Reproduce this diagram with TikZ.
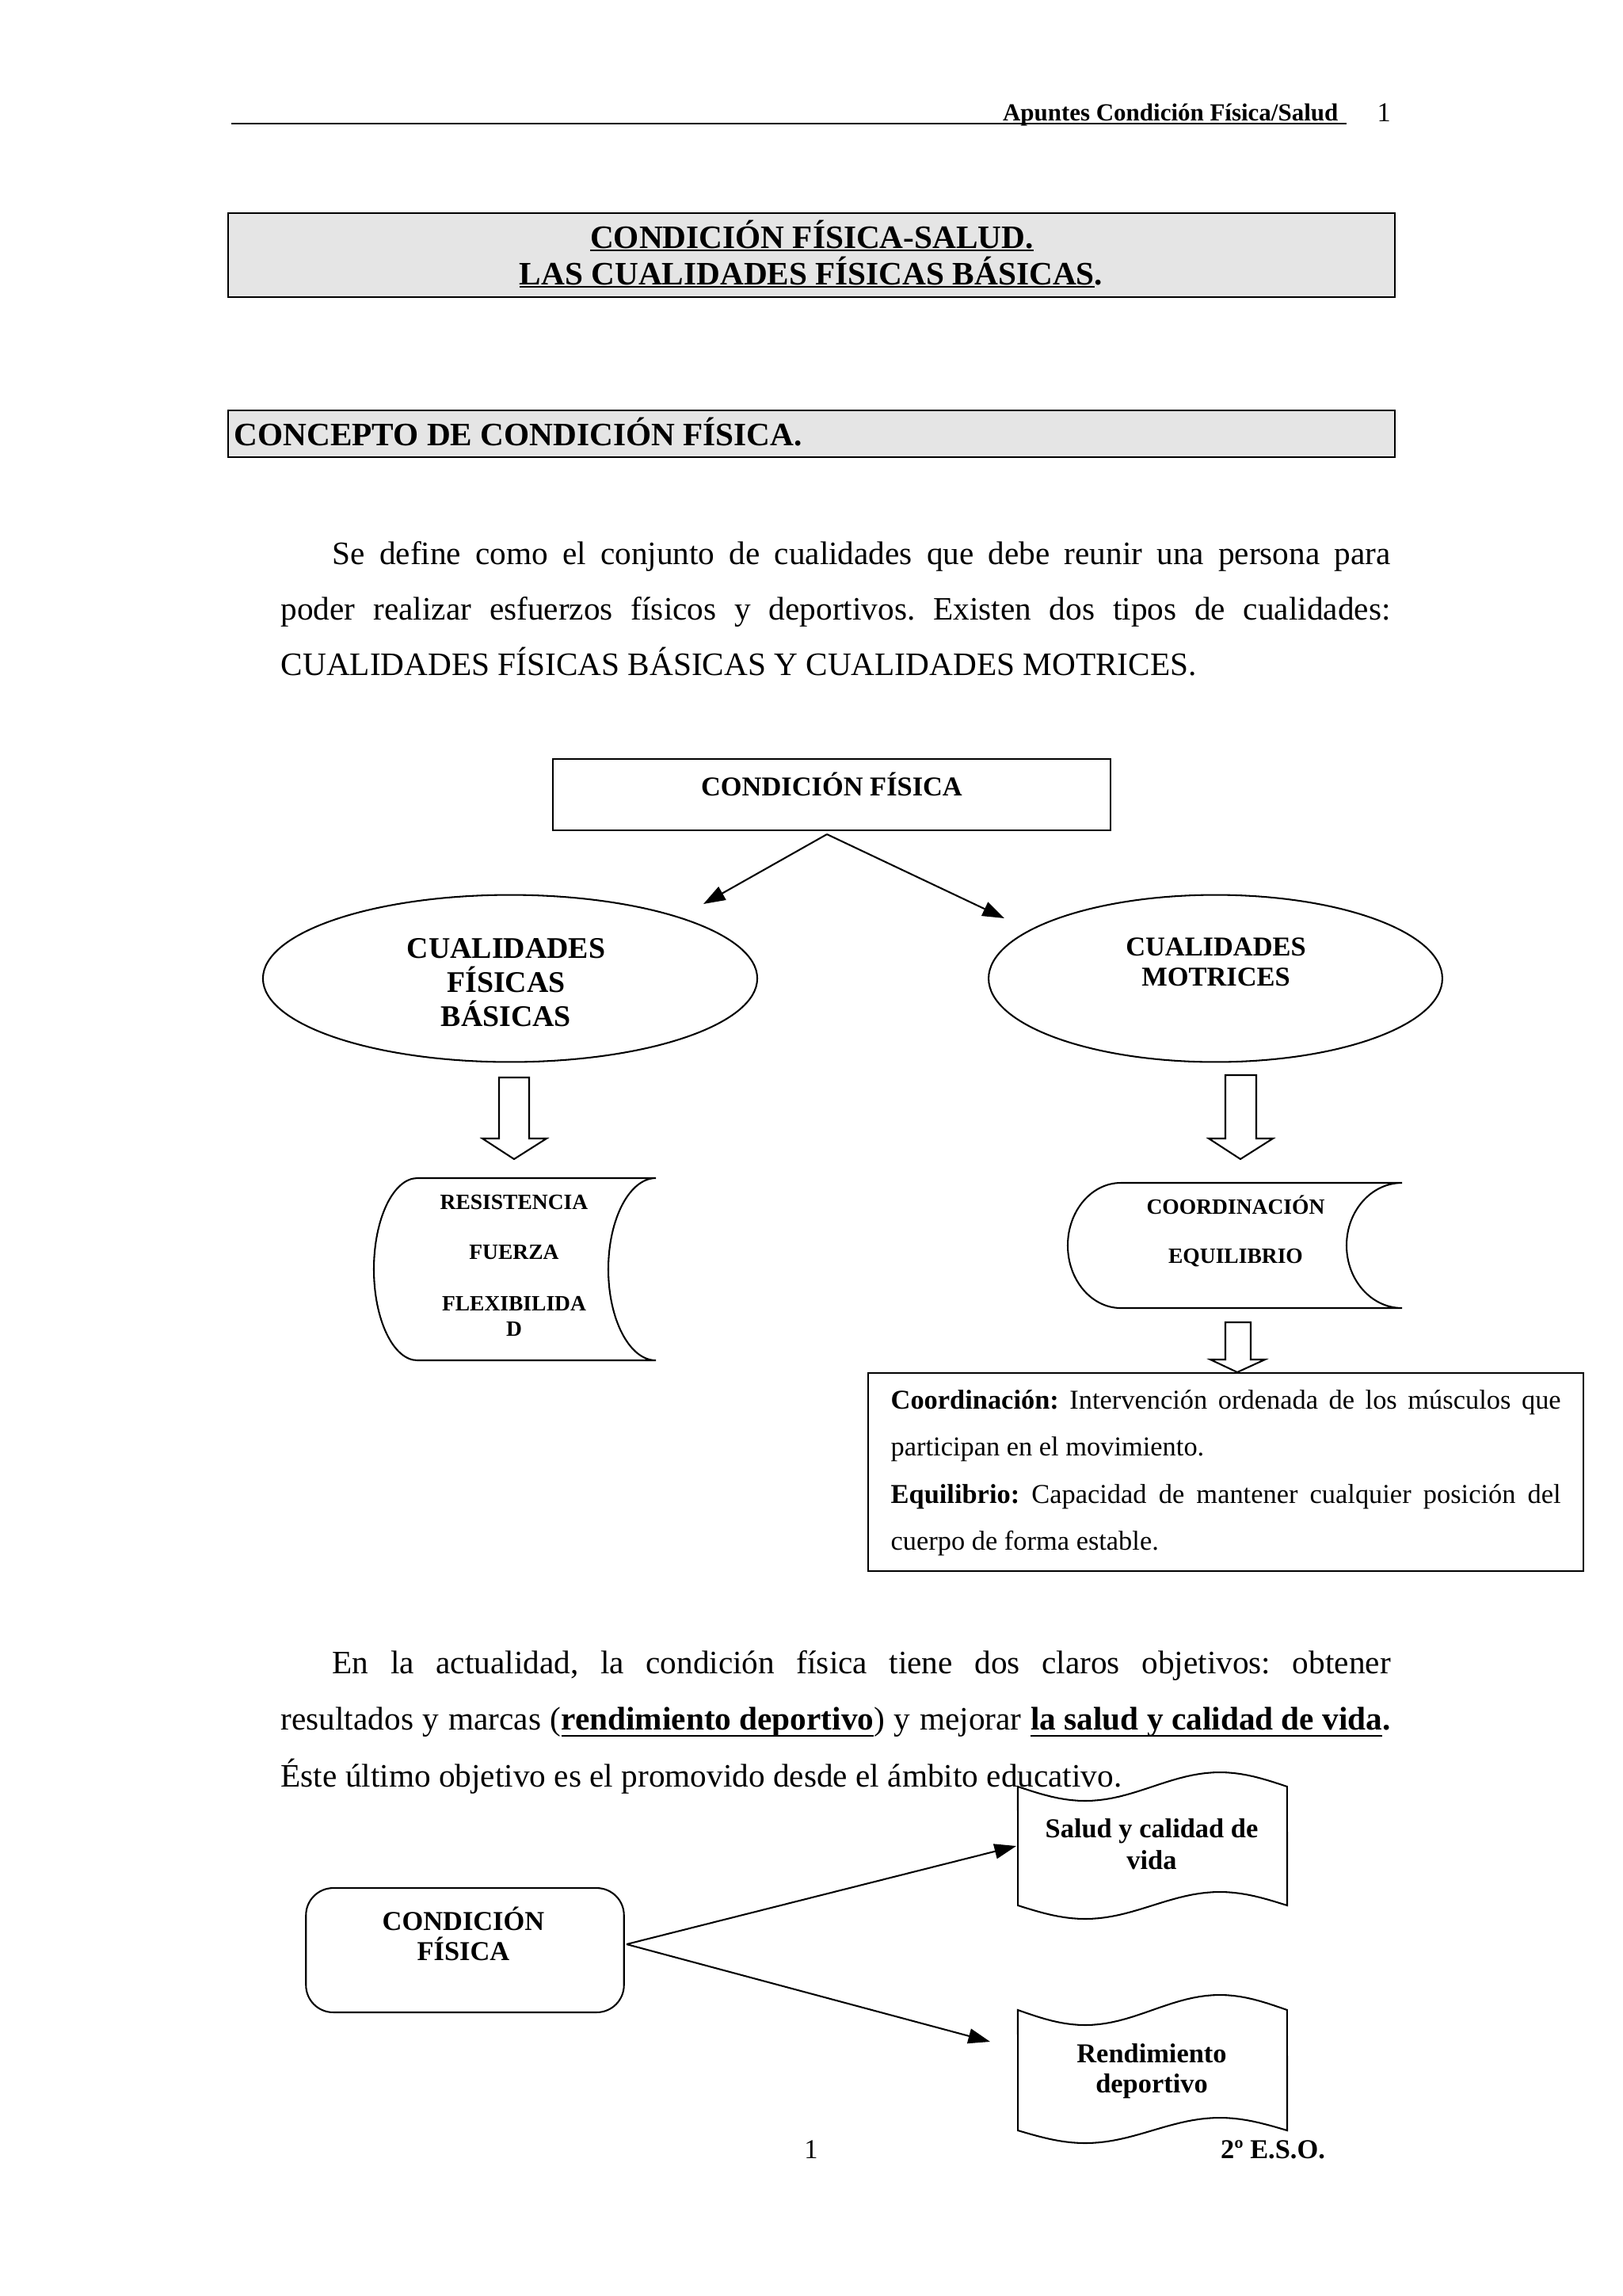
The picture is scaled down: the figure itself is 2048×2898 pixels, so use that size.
\documentclass[tikz,border=0pt]{standalone}
\usepackage{fontspec}
\setmainfont{Liberation Serif}
\usetikzlibrary{arrows.meta,shapes.geometric}
\frenchspacing
\newcommand\myul[2][2pt]{\setbox0\hbox{#2}\rlap{\rule[-#1]{\wd0}{0.6pt}}\box0}
\tikzset{
  bar/.style={draw, line width=0.8pt, fill=black!10},
  flow/.style={draw, line width=0.6pt},
  arr/.style={-{Triangle[length=8pt,width=5.5pt]}, line width=0.6pt},
  blk/.style={draw, line width=0.6pt, fill=white},
  lab/.style={anchor=base, inner sep=0pt},
  bf8/.style={lab, font=\fontsize{8}{9.2}\selectfont\bfseries},
  bf10/.style={lab, font=\fontsize{10}{11.5}\selectfont\bfseries},
  bf11/.style={lab, font=\fontsize{11}{12.5}\selectfont\bfseries},
  bf12/.style={lab, font=\fontsize{12}{14}\selectfont\bfseries},
}
\begin{document}
\begin{tikzpicture}[x=0.290662pt,y=-0.290662pt]
\useasboundingbox (0,0) rectangle (2048,2898);

% header
\coordinate (hl1) at (292,155.7);
\coordinate (hl2) at (1700,155.7);
\draw[line width=0.6pt] (hl1) -- (hl2);
\node[lab, anchor=base east, font=\fontsize{9}{11}\selectfont\bfseries] (htxt) at (1690,152.7) {Apuntes Condición Física/Salud};
\node[lab, anchor=base west, font=\fontsize{10}{12}\selectfont] (hnum) at (1738,153) {1};

% title bar
\node[bar, minimum width=428.2pt, minimum height=30.8pt, inner sep=0pt] (tbar) at (1024.5,322) {};
\node[bf12] (t1) at (1025,313) {\myul[1.3pt]{CONDICIÓN FÍSICA-SALUD.}};
\node[bf12] (t2) at (1024,359) {\myul[1.3pt]{LAS CUALIDADES FÍSICAS BÁSICAS}.};

% concept bar
\node[bar, minimum width=428.2pt, minimum height=17.1pt, inner sep=0pt] (cbar) at (1024.5,547.5) {};
\node[bf12, anchor=base west] (ctxt) at (295,562) {CONCEPTO DE CONDICIÓN FÍSICA.};

% paragraph 1
\node[anchor=base west, inner sep=0pt, text width=407.2pt, align=justify,
      font=\fontsize{12}{20.35}\selectfont] (p1) at (354,712)
 {\hspace*{18.9pt}Se define como el conjunto de cualidades que debe reunir una persona para\linebreak
  poder realizar esfuerzos físicos y deportivos. Existen dos tipos de cualidades:\linebreak
  CUALIDADES FÍSICAS BÁSICAS Y CUALIDADES MOTRICES.};

% diagram 1
\node[flow, minimum width=204.6pt, minimum height=26.2pt, inner sep=0pt] (cf1) at (1050,1003) {};
\node[bf10] (cf1t) at (1050,1004.4) {CONDICIÓN FÍSICA};
\coordinate (cf1s) at (1044,1053);
\coordinate (cfbt) at (888,1141);
\coordinate (cmt) at (1268,1159);
\draw[arr] (cf1s) -- (cfbt);
\draw[arr] (cf1s) -- (cmt);

\node[flow, ellipse, minimum width=181.4pt, minimum height=61.3pt, inner sep=0pt] (cfb) at (644,1235) {};
\node[bf11] (cfb1) at (639,1209.5) {CUALIDADES};
\node[bf11] (cfb2) at (639,1252.5) {FÍSICAS};
\node[bf11] (cfb3) at (639,1295.5) {BÁSICAS};

\node[flow, ellipse, minimum width=166.5pt, minimum height=61.3pt, inner sep=0pt] (cm) at (1534.5,1235) {};
\node[bf10] (cm1) at (1535,1206.4) {CUALIDADES};
\node[bf10] (cm2) at (1535,1244.4) {MOTRICES};

% block arrows
\draw[blk] (630,1360) -- (668,1360) -- (668,1437) -- (690,1437) -- (649,1463) -- (609,1437) -- (630,1437) -- cycle;
\draw[blk] (1547,1357) -- (1586,1357) -- (1586,1437) -- (1607,1437) -- (1566,1463) -- (1526,1437) -- (1547,1437) -- cycle;

% left stored data shape
\draw[flow] (527,1487) -- (828,1487) .. controls (794.9,1487) and (768,1538.5) .. (768,1602)
  .. controls (768,1665.5) and (794.9,1717) .. (828,1717) -- (527,1717)
  .. controls (496.6,1717) and (472,1665.5) .. (472,1602)
  .. controls (472,1538.5) and (496.6,1487) .. (527,1487) -- cycle;
\node[bf8] (r1) at (649,1526) {RESISTENCIA};
\node[bf8] (r2) at (649,1589) {FUERZA};
\node[bf8] (r3) at (649,1654) {FLEXIBILIDA};
\node[bf8] (r4) at (649,1686) {D};

% right stored data shape
\draw[flow] (1415,1493) -- (1770,1493) .. controls (1731.3,1493) and (1700,1528.4) .. (1700,1572)
  .. controls (1700,1615.6) and (1731.3,1651) .. (1770,1651) -- (1415,1651)
  .. controls (1378,1651) and (1348,1615.6) .. (1348,1572)
  .. controls (1348,1528.4) and (1378,1493) .. (1415,1493) -- cycle;
\node[bf8] (m1) at (1560,1532) {COORDINACIÓN};
\node[bf8] (m2) at (1560,1594) {EQUILIBRIO};

% small block arrow
\draw[blk] (1547,1669) -- (1579,1669) -- (1579,1716) -- (1597,1716) -- (1562,1732) -- (1528,1716) -- (1547,1716) -- cycle;

% definitions box
\node[flow, minimum width=262.5pt, minimum height=72.7pt, inner sep=0pt] (def) at (1547.5,1858) {};
\node[anchor=base west, inner sep=0pt, text width=245.9pt, align=justify,
      font=\fontsize{10}{17.3}\selectfont] (deft) at (1124,1778)
 {\noindent\textbf{Coordinación:} Intervención ordenada de los músculos que\linebreak
  participan en el movimiento.\par
  \noindent\textbf{Equilibrio:} Capacidad de mantener cualquier posición del\linebreak
  cuerpo de forma estable.};

% paragraph 2
\node[anchor=base west, inner sep=0pt, text width=407.2pt, align=justify,
      font=\fontsize{12}{20.8}\selectfont] (p2) at (354,2112)
 {\hspace*{18.9pt}En la actualidad, la condición física tiene dos claros objetivos: obtener\linebreak
  resultados y marcas (\textbf{\myul[2.4pt]{rendimiento deportivo}}) y mejorar \textbf{\myul[2.4pt]{la salud y calidad de vida}.}\linebreak
  Éste último objetivo es el promovido desde el ámbito educativo.};

% diagram 2
\node[flow, rounded corners=10pt, minimum width=116.7pt, minimum height=45.6pt, inner sep=0pt] (cf2) at (587,2461.5) {};
\node[bf10] (cf2a) at (585,2436.4) {CONDICIÓN};
\node[bf10] (cf2b) at (585,2474.4) {FÍSICA};

\draw[flow] plot[domain=0:1,samples=41] ({1285+340*\x},{2255+18*sin(360*\x)})
  -- plot[domain=1:0,samples=41] ({1285+340*\x},{2405+17*sin(360*\x)}) -- cycle;
\node[bf10] (s1) at (1454,2319) {Salud y calidad de};
\node[bf10] (s2) at (1454,2359) {vida};

\draw[flow] plot[domain=0:1,samples=41] ({1285+340*\x},{2537+19*sin(360*\x)})
  -- plot[domain=1:0,samples=41] ({1285+340*\x},{2689+16*sin(360*\x)}) -- cycle;
\node[bf10] (d1) at (1454,2603) {Rendimiento};
\node[bf10] (d2) at (1454,2641) {deportivo};

\coordinate (cf2s) at (791,2454);
\coordinate (salt) at (1283,2330);
\coordinate (rendt) at (1250,2577);
\draw[arr] (cf2s) -- (salt);
\draw[arr] (cf2s) -- (rendt);

% footer
\node[lab, font=\fontsize{10}{12}\selectfont] (fnum) at (1024,2724.4) {1};
\node[bf10] (feso) at (1607,2724.4) {2º E.S.O.};
\end{tikzpicture}
\end{document}
